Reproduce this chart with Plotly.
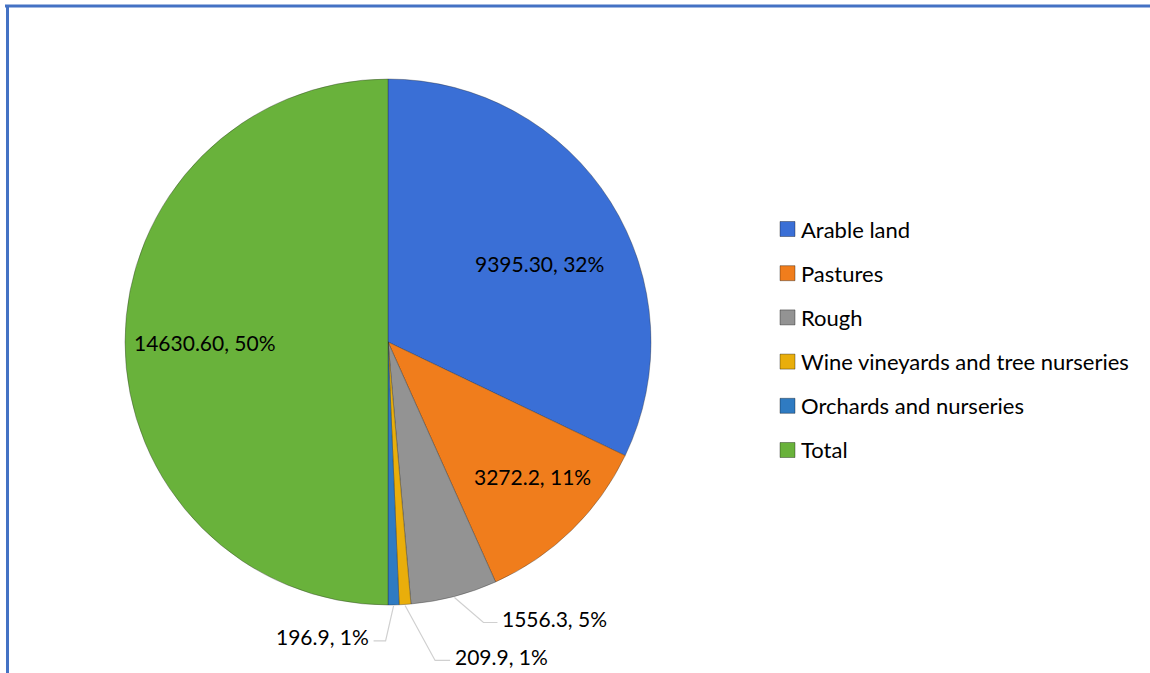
import math
import plotly.graph_objects as go

categories = ["Arable land", "Pastures", "Rough", "Wine vineyards and tree nurseries",
              "Orchards and nurseries", "Total"]
values = [9395.30, 3272.2, 1556.3, 209.9, 196.9, 14630.60]
value_labels = ["9395.30", "3272.2", "1556.3", "209.9", "196.9", "14630.60"]
colors = ["#3A6FD6", "#F07D1C", "#939393", "#E9AE0B", "#2F7BC2", "#69B23B"]

# ---- layout constants (pixels) ----
W, H = 1150, 673
CX, CY, R = 388, 342, 263          # pie centre / radius
FONT = "Lato"
LABEL_SIZE = 21
LEGEND_SIZE = 22
INSIDE_FRAC = 0.68
# inside labels: slice index -> pixel nudge from the mid-angle point
inside_nudge = {0: (0, 17), 1: (20, 6), 5: (-4, 0)}
# outside labels: slice index -> (elbow dx, elbow dy, horizontal run)
outside = {2: (29, 25, 14), 3: (30, 55, 15), 4: (-8, 35, -12)}
LEG_X, LEG_Y0, LEG_DY, LEG_SQ = 780, 229, 44.2, 15
LEAD_COLOR = "#D0D0D0"


def fx(x):
    return x / W


def fy(y):
    return 1 - y / H


fig = go.Figure(go.Pie(
    labels=categories,
    values=values,
    customdata=value_labels,
    textinfo="none",
    sort=False,
    direction="clockwise",
    rotation=0,
    marker=dict(colors=colors, line=dict(color="rgba(40,40,40,0.35)", width=1)),
    domain=dict(x=[fx(CX - R), fx(CX + R)], y=[fy(CY + R), fy(CY - R)]),
    hovertemplate="%{label}<br>%{customdata}, %{percent}<extra></extra>",
    showlegend=False,
))

total = sum(values)
annotations = []
shapes = [
    dict(type="line", xref="paper", yref="paper", x0=fx(5), x1=1.0, y0=fy(6), y1=fy(6),
         line=dict(color="#4472C4", width=3)),
    dict(type="line", xref="paper", yref="paper", x0=fx(7.5), x1=fx(7.5), y0=0.0, y1=fy(5),
         line=dict(color="#4472C4", width=3)),
]

cum = 0.0
for i, v in enumerate(values):
    mid = (cum + v / 2) / total * 2 * math.pi
    cum += v
    text = f"{value_labels[i]}, {round(100 * v / total)}%"
    if i in outside:
        dx, dy, run = outside[i]
        rx = CX + (R + 1) * math.sin(mid)
        ry = CY - (R + 1) * math.cos(mid)
        ex, ey = rx + dx, ry + dy
        hx = ex + run
        shapes.append(dict(
            type="path", xref="paper", yref="paper",
            path=f"M {fx(rx)},{fy(ry)} L {fx(ex)},{fy(ey)} L {fx(hx)},{fy(ey)}",
            line=dict(color=LEAD_COLOR, width=1.2)))
        annotations.append(dict(
            x=fx(hx + (3 if run > 0 else -3)), y=fy(ey - 4), xref="paper", yref="paper",
            text=text, showarrow=False, xanchor="left" if run > 0 else "right",
            yanchor="middle", font=dict(family=FONT, size=LABEL_SIZE, color="#000000")))
    else:
        r = INSIDE_FRAC * R
        nx, ny = inside_nudge.get(i, (0, 0))
        annotations.append(dict(
            x=fx(CX + r * math.sin(mid) + nx), y=fy(CY - r * math.cos(mid) + ny),
            xref="paper", yref="paper", text=text, showarrow=False,
            xanchor="center", yanchor="middle",
            font=dict(family=FONT, size=LABEL_SIZE, color="#000000")))

# legend built from the category list
for i, (name, col) in enumerate(zip(categories, colors)):
    yc = LEG_Y0 + i * LEG_DY
    shapes.append(dict(
        type="rect", xref="paper", yref="paper",
        x0=fx(LEG_X), x1=fx(LEG_X + LEG_SQ), y0=fy(yc + LEG_SQ / 2), y1=fy(yc - LEG_SQ / 2),
        fillcolor=col, line=dict(color="rgba(0,0,0,0.35)", width=1)))
    annotations.append(dict(
        x=fx(LEG_X + LEG_SQ + 4), y=fy(yc), xref="paper", yref="paper",
        text=name, showarrow=False, xanchor="left", yanchor="middle",
        font=dict(family=FONT, size=LEGEND_SIZE, color="#000000")))

fig.update_layout(
    width=W, height=H,
    margin=dict(l=0, r=0, t=0, b=0),
    paper_bgcolor="white",
    plot_bgcolor="white",
    font=dict(family=FONT, size=LABEL_SIZE, color="#000000"),
    showlegend=False,
    shapes=shapes,
    annotations=annotations,
)

fig.write_html("out.html", config={"displayModeBar": False},
               post_script="document.body.style.margin='0';")
